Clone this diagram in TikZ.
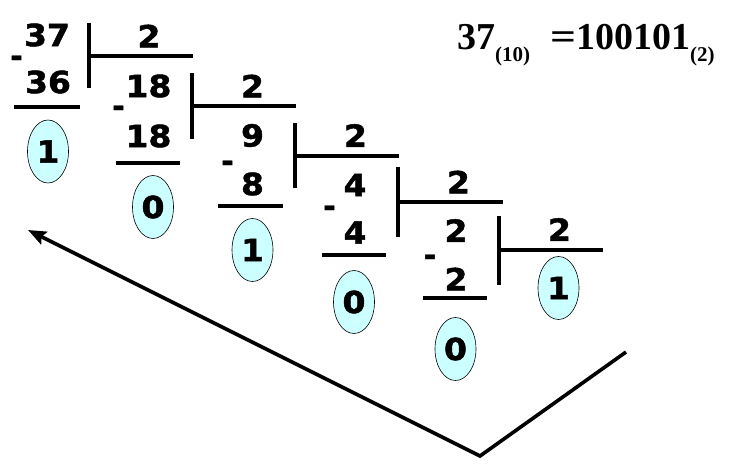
\documentclass[tikz,border=0pt]{standalone}
\usepackage{fontspec}
\usepackage{graphicx}
\setmainfont{DejaVu Sans}
\newfontfamily\numfont[FakeBold=1.5]{DejaVu Sans Bold}
\newfontfamily\eqfont{Liberation Serif Bold}
\usetikzlibrary{shapes.geometric,arrows.meta}
\definecolor{bubble}{RGB}{204,255,255}
\newcommand{\dg}[1]{\scalebox{1.08}[1]{#1}}
\tikzset{
  num/.style={inner sep=0pt,font=\numfont\fontsize{30.5}{30.5}\selectfont},
  minus/.style={inner sep=0pt,anchor=base,font=\numfont\fontsize{30}{30}\selectfont},
  rule/.style={line width=3.8pt},
  rem/.style={ellipse,draw=black,line width=0.6pt,fill=bubble,minimum width=41pt,minimum height=63pt,inner sep=0pt,font=\numfont\fontsize{30.5}{30.5}\selectfont},
  arr/.style={line width=3.6pt,line join=miter}
}
\begin{document}
\begin{tikzpicture}[x=1pt,y=-1pt]
\useasboundingbox (0,0) rectangle (741,471);
% stage 1
\node[num] (d1) at (47,35) {\dg{37}};
\node[num] (s1) at (48,82) {\dg{36}};
\node[minus] (m1) at (16.5,66.5) {-};
\node[num] (q1) at (149,36) {\dg{2}};
\coordinate (v1a) at (89,23); \coordinate (v1b) at (89,88);
\coordinate (h1a) at (89,56); \coordinate (h1b) at (193,56);
\coordinate (u1a) at (14,107); \coordinate (u1b) at (80,107);
\draw[rule] (v1a) -- (v1b) (h1a) -- (h1b) (u1a) -- (u1b);
\node[rem] (r1) at (48,151.5) {\dg{1}};
% stage 2
\node[num] (d2) at (148.5,86) {\dg{18}};
\node[num] (s2) at (148.5,136) {\dg{18}};
\node[minus] (m2) at (118.5,116.5) {-};
\node[num] (q2) at (252.5,86) {\dg{2}};
\coordinate (v2a) at (192,73); \coordinate (v2b) at (192,139);
\coordinate (h2a) at (192,106); \coordinate (h2b) at (296,106);
\coordinate (u2a) at (116,163); \coordinate (u2b) at (180,163);
\draw[rule] (v2a) -- (v2b) (h2a) -- (h2b) (u2a) -- (u2b);
\node[rem] (r2) at (153,207) {\dg{0}};
% stage 3
\node[num] (d3) at (252.5,135.5) {\dg{9}};
\node[num] (s3) at (252.5,184) {\dg{8}};
\node[minus] (m3) at (227.5,171.5) {-};
\node[num] (q3) at (355.5,135.5) {\dg{2}};
\coordinate (v3a) at (295,123); \coordinate (v3b) at (295,188);
\coordinate (h3a) at (295,156); \coordinate (h3b) at (399,156);
\coordinate (u3a) at (218,206); \coordinate (u3b) at (283,206);
\draw[rule] (v3a) -- (v3b) (h3a) -- (h3b) (u3a) -- (u3b);
\node[rem] (r3) at (252.5,250) {\dg{1}};
% stage 4
\node[num] (d4) at (355,185) {\dg{4}};
\node[num] (s4) at (355,232.5) {\dg{4}};
\node[minus] (m4) at (329.5,216.5) {-};
\node[num] (q4) at (458.5,182) {\dg{2}};
\coordinate (v4a) at (398,167); \coordinate (v4b) at (398,237);
\coordinate (h4a) at (398,202); \coordinate (h4b) at (503,202);
\coordinate (u4a) at (322,255); \coordinate (u4b) at (386,255);
\draw[rule] (v4a) -- (v4b) (h4a) -- (h4b) (u4a) -- (u4b);
\node[rem] (r4) at (354,302) {\dg{0}};
% stage 5
\node[num] (d5) at (456,230.5) {\dg{2}};
\node[num] (s5) at (456,279) {\dg{2}};
\node[minus] (m5) at (430,265.5) {-};
\node[num] (q5) at (559.5,229.5) {\dg{2}};
\coordinate (v5a) at (499,216); \coordinate (v5b) at (499,285);
\coordinate (h5a) at (499,250); \coordinate (h5b) at (603,250);
\coordinate (u5a) at (423,298); \coordinate (u5b) at (487,298);
\draw[rule] (v5a) -- (v5b) (h5a) -- (h5b) (u5a) -- (u5b);
\node[rem] (r5) at (455.5,349) {\dg{0}};
\node[rem] (r6) at (558.5,288) {\dg{1}};
% result
\node[anchor=base west,inner sep=0pt,font=\eqfont\fontsize{38}{38}\selectfont] (eq) at (457,49)
  {37\raisebox{-12pt}{\fontsize{21}{21}\selectfont(10)}\hspace{20pt}\scalebox{1.2}[1]{=}100101\raisebox{-12pt}{\fontsize{21}{21}\selectfont(2)}};
% arrow
\coordinate (a1) at (626,352);
\coordinate (a2) at (480,456);
\coordinate (a3) at (28,230);
\draw[arr,-{Stealth[length=18pt,width=14pt,inset=3pt]}] (a1) -- (a2) -- (a3);
\end{tikzpicture}
\end{document}
